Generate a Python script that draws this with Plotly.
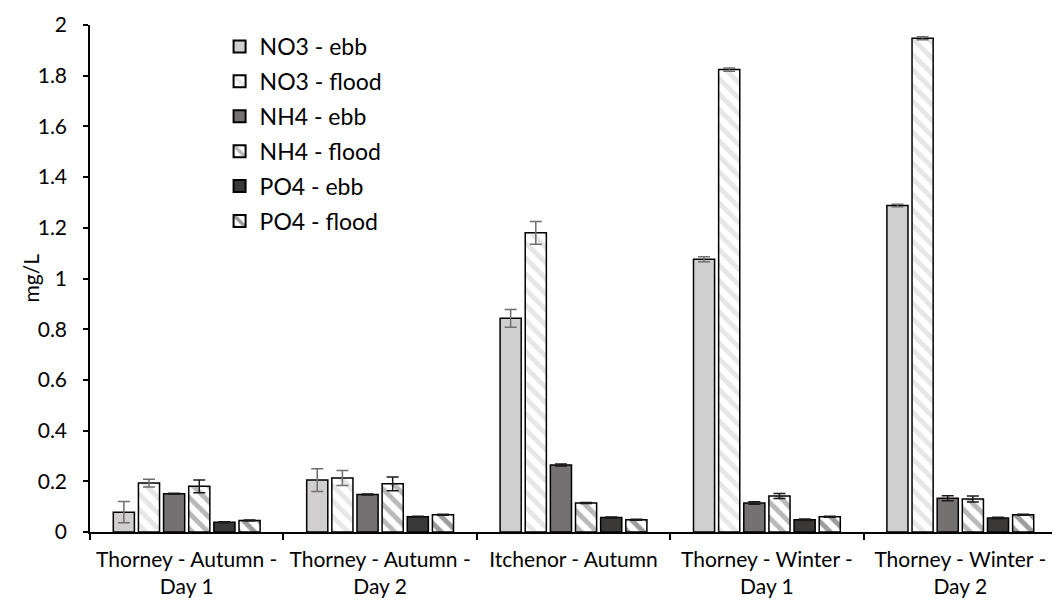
import plotly.graph_objects as go

categories = ["Thorney - Autumn -<br>Day 1", "Thorney - Autumn -<br>Day 2", "Itchenor - Autumn",
              "Thorney - Winter -<br>Day 1", "Thorney - Winter -<br>Day 2"]

series_names = ["NO3 - ebb", "NO3 - flood", "NH4 - ebb", "NH4 - flood", "PO4 - ebb", "PO4 - flood"]

no3_ebb = [0.078, 0.205, 0.843, 1.076, 1.288]
no3_ebb_err = [0.042, 0.045, 0.035, 0.010, 0.005]
no3_flood = [0.193, 0.213, 1.180, 1.824, 1.948]
no3_flood_err = [0.015, 0.030, 0.045, 0.006, 0.006]
nh4_ebb = [0.151, 0.148, 0.264, 0.114, 0.133]
nh4_ebb_err = [0.002, 0.002, 0.004, 0.005, 0.010]
nh4_flood = [0.180, 0.190, 0.114, 0.142, 0.130]
nh4_flood_err = [0.025, 0.027, 0.002, 0.010, 0.012]
po4_ebb = [0.038, 0.060, 0.057, 0.048, 0.055]
po4_ebb_err = [0.002, 0.002, 0.002, 0.003, 0.003]
po4_flood = [0.045, 0.068, 0.048, 0.060, 0.068]
po4_flood_err = [0.002, 0.002, 0.002, 0.002, 0.002]

y_title = "mg/L"

values = [no3_ebb, no3_flood, nh4_ebb, nh4_flood, po4_ebb, po4_flood]
errors = [no3_ebb_err, no3_flood_err, nh4_ebb_err, nh4_flood_err, po4_ebb_err, po4_flood_err]

shades = ["#d0cece", "#d0cece", "#767171", "#767171", "#3b3838", "#3b3838"]
striped = [False, True, False, True, False, True]
err_colors = ["#6f6f6f", "#6f6f6f", "#1a1a1a", "#1a1a1a", "#1a1a1a", "#1a1a1a"]

FONT = "Lato, Liberation Sans, sans-serif"
FS = 21

fig = go.Figure()
for i, name in enumerate(series_names):
    if striped[i]:
        marker = dict(color="white", line=dict(color="black", width=1.5),
                      pattern=dict(shape="\\", fgcolor=shades[i], bgcolor="white",
                                   size=11, solidity=0.45, fillmode="overlay"))
    else:
        marker = dict(color=shades[i], line=dict(color="black", width=1.5))
    fig.add_trace(go.Bar(
        x=categories, y=values[i], name=name, marker=marker,
        legendgroup=name,
        error_y=dict(type="data", array=errors[i], visible=True,
                     color=err_colors[i], thickness=1.5, width=6),
    ))

# page body has an 8px margin, so the figure is 8px smaller and offsets are reduced by 8
fig.update_layout(
    width=1052, height=595,
    barmode="group", bargap=0.22, bargroupgap=0.16,
    plot_bgcolor="white", paper_bgcolor="white",
    margin=dict(l=82, r=3, t=17, b=71),
    font=dict(family=FONT, size=FS, color="black"),
    legend=dict(x=0.134, y=1.0, xanchor="left", yanchor="top",
                font=dict(size=23), tracegroupgap=2, bgcolor="rgba(0,0,0,0)",
                itemsizing="constant"),
    showlegend=True,
    annotations=[dict(text=y_title, xref="paper", yref="paper", x=-0.062, y=0.5,
                      xanchor="center", yanchor="middle", textangle=-90,
                      showarrow=False, font=dict(size=FS))],
)
fig.update_xaxes(showline=True, linecolor="black", linewidth=1.5, ticks="outside",
                 tickson="boundaries", ticklen=6, tickcolor="black", tickwidth=1.5,
                 showgrid=False, tickfont=dict(size=FS), automargin=False,
                 ticklabelstandoff=8)
fig.update_yaxes(range=[0, 2], dtick=0.2, showline=True, linecolor="black", linewidth=1.5,
                 ticks="outside", ticklen=5, tickcolor="black", tickwidth=1.5,
                 showgrid=False, zeroline=False, tickfont=dict(size=FS), automargin=False,
                 ticklabelstandoff=12)

fig.write_html("out.html")
